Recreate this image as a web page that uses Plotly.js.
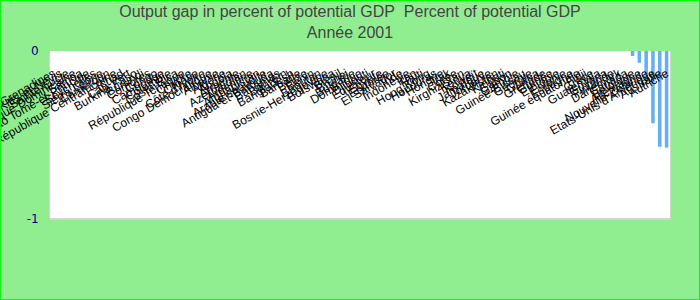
<!DOCTYPE html>
<html>
<head>
<meta charset="utf-8">
<script src="https://cdn.plot.ly/plotly-3.0.1.min.js"></script>
<style>
html,body{margin:0;padding:0;background:#90EE90;}
#wrap{width:698px;height:298px;border:1px solid #00FF00;}
#chart{width:698px;height:298px;}
</style>
</head>
<body>
<div id="wrap"><div id="chart"></div></div>
<script>
const countries = [
  "Saint-Vincent-et-les-Grenadines","Saint-Kitts-et-Nevis","Sainte-Lucie","République Dominicaine","Samoa",
  "Sao Tomé-et-Principe","Seychelles","Sierra Leone","Cameroun","République Centrafricaine",
  "Tchad","Cap-Vert","Burkina Faso","Burundi","Comores",
  "Congo","Cambodge","Colombie","Costa Rica","République Tchèque",
  "Chypre","Croatie","Côte d'Ivoire","Congo Démocratique","Albanie",
  "Algérie","Angola","Arménie","Azerbaïdjan","Argentine",
  "Afghanistan","Arabie saoudite","Antigua-et-Barbuda","Bahamas","Bahreïn",
  "Bangladesh","Barbade","Belize","Bénin","Bhoutan",
  "Bosnie-Herzégovine","Botswana","Brésil","Brunei","Bulgarie",
  "Dominique","Djibouti","Equateur","Egypte","Erythrée",
  "El Salvador","Inde","Indonésie","Iran","Haïti",
  "Hong Kong","Honduras","Hongrie","Irak","Corée",
  "Kirghizistan","Kenya","Koweït","Jamaïque","Jordanie",
  "Kazakhstan","Kiribati","Gabon","Gambie","Guinée-Bissau",
  "Géorgie","Ghana","Grenade","Guinée","Ethiopie",
  "Estonie","Espagne","Guinée équatoriale","Fidji","Grèce",
  "Guatemala","Guyana","Finlande","Danemark","Canada",
  "Belgique","Allemagne","Nouvelle-Zélande","Etats-Unis d'Amérique","Australie",
  "Autriche"
];
// Output gap values (percent of potential GDP), null where no data
const values = [
  null,null,null,null,null,null,null,null,null,null,
  null,null,null,null,null,null,null,null,null,null,
  null,null,null,null,null,null,null,null,null,null,
  null,null,null,null,null,null,null,null,null,null,
  null,null,null,null,null,null,null,null,null,null,
  null,null,null,null,null,null,null,null,null,null,
  null,null,null,null,null,null,null,null,null,null,
  null,null,null,null,null,null,null,null,null,null,
  null,null,null,null,null,-0.03,-0.07,-0.18,-0.43,-0.57,
  -0.575
];
const yTicks = [0, -1];
const yTickText = ["0", "-1"];

const trace = {
  type: "bar",
  x: countries,
  y: values,
  marker: {color: "#66AEF5"},
  hoverinfo: "x+y"
};

const layout = {
  width: 698, height: 298,
  paper_bgcolor: "#90EE90",
  plot_bgcolor: "#FFFFFF",
  margin: {l: 49, r: 29, t: 50, b: 80},
  showlegend: false,
  bargap: 0.48,
  title: {
    text: "Output gap in percent of potential GDP\u00a0\u00a0Percent of potential GDP<br>Année 2001",
    font: {family: "Liberation Sans, Arial, sans-serif", size: 16, color: "#444444"},
    x: 0.5, xanchor: "center",
    yref: "container", y: 0.945, yanchor: "top"
  },
  xaxis: {
    type: "category",
    range: [-0.5, countries.length - 0.5],
    tickmode: "linear", dtick: 1,
    anchor: "free", position: 1, side: "bottom",
    tickangle: -30,
    ticks: "outside", ticklen: 10, tickcolor: "rgba(0,0,0,0)",
    tickfont: {family: "Liberation Sans, Arial, sans-serif", size: 12, color: "#000000"},
    showgrid: false, zeroline: false, showline: false,
    automargin: false, fixedrange: true
  },
  yaxis: {
    range: [-1, 0],
    tickmode: "array", tickvals: yTicks, ticktext: yTickText,
    ticks: "outside", ticklen: 8, tickcolor: "rgba(0,0,0,0)",
    tickfont: {family: "DejaVu Sans, sans-serif", size: 12, color: "#00008B"},
    showgrid: false, zeroline: false,
    showline: true, mirror: true, linecolor: "#D3D3D3", linewidth: 1,
    automargin: false, fixedrange: true
  },
  shapes: [
    {type: "line", xref: "paper", yref: "paper", x0: 0, x1: 1, y0: 0, y1: 0,
     line: {color: "#D3D3D3", width: 2}}
  ]
};

Plotly.newPlot("chart", [trace], layout, {displayModeBar: false, staticPlot: true});
</script>
</body>
</html>
